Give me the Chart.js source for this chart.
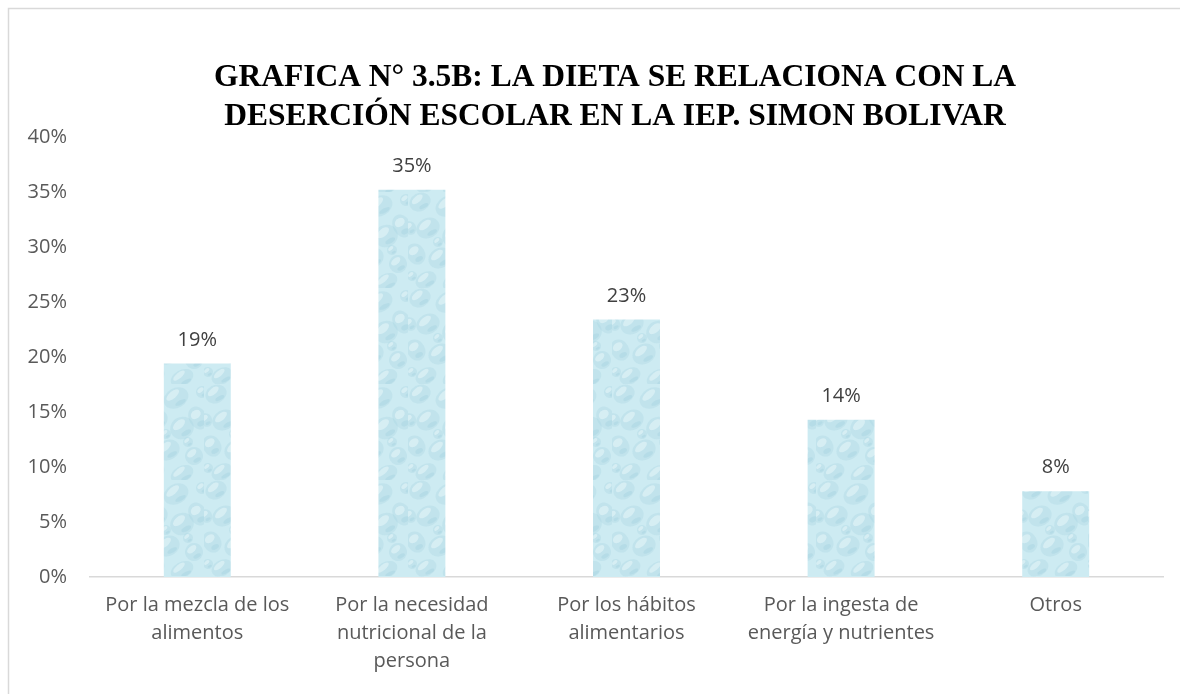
<!DOCTYPE html>
<html>
<head>
<meta charset="utf-8">
<script src="https://cdn.jsdelivr.net/npm/chart.js@4.4.1/dist/chart.umd.min.js"></script>
<style>
html,body{margin:0;padding:0;background:#fff;}
#wrap{position:absolute;left:0;top:0;width:1180px;height:694px;}
</style>
</head>
<body>
<div id="wrap"><canvas id="c" width="1180" height="694"></canvas></div>
<script>
const titleLines = ["GRAFICA N° 3.5B: LA DIETA SE RELACIONA CON LA", "DESERCIÓN ESCOLAR EN LA IEP. SIMON BOLIVAR"];
const categories = [
  ["Por la mezcla de los", "alimentos"],
  ["Por la necesidad", "nutricional de la", "persona"],
  ["Por los hábitos", "alimentarios"],
  ["Por la ingesta de", "energía y nutrientes"],
  ["Otros"]
];
const values = [0.194, 0.352, 0.234, 0.143, 0.078];
const yTickMin = 0, yTickMax = 0.4, yTickStep = 0.05;

// water-drop texture pattern (style only)
function makePattern() {
  const p = document.createElement('canvas');
  p.width = 68; p.height = 96;
  const g = p.getContext('2d');
  g.fillStyle = '#cdebf2';
  g.fillRect(0, 0, p.width, p.height);
  const drops = [
    [12,10,11,9],[40,14,13,10],[62,34,9,12],[20,36,12,10],[46,44,12,11],
    [8,62,9,11],[32,66,12,10],[58,72,9,9],[18,88,11,8],[46,90,12,8],
    [2,36,6,7],[66,8,6,6],[30,50,5,5],[52,58,5,5],[4,84,5,5]
  ];
  for (const [x,y,rx,ry] of drops) {
    g.beginPath(); g.ellipse(x, y, rx, ry, -0.5, 0, Math.PI*2);
    g.fillStyle = 'rgba(160,210,224,0.28)'; g.fill();
    g.beginPath(); g.ellipse(x-rx*0.25, y-ry*0.3, rx*0.6, ry*0.35, -0.7, 0, Math.PI*2);
    g.fillStyle = 'rgba(240,250,252,0.45)'; g.fill();
    g.beginPath(); g.ellipse(x+rx*0.35, y+ry*0.45, rx*0.45, ry*0.22, -0.5, 0, Math.PI*2);
    g.fillStyle = 'rgba(140,195,212,0.22)'; g.fill();
  }
  return g.createPattern(p, 'repeat');
}

const frame = {
  id: 'frame',
  beforeDraw(chart) {
    const ctx = chart.ctx;
    ctx.save();
    ctx.strokeStyle = '#d9d9d9';
    ctx.lineWidth = 1.5;
    ctx.beginPath();
    ctx.moveTo(8.5, 694); ctx.lineTo(8.5, 8.5); ctx.lineTo(1180, 8.5);
    ctx.stroke();
    ctx.restore();
  }
};

const chartTitle = {
  id: 'chartTitle',
  afterDraw(chart) {
    const ctx = chart.ctx;
    ctx.save();
    ctx.font = 'bold 31.5px "Liberation Serif", "Times New Roman", serif';
    ctx.fillStyle = '#000';
    ctx.textAlign = 'center';
    ctx.textBaseline = 'middle';
    titleLines.forEach((t, i) => ctx.fillText(t, 615, 78 + i * 38.5));
    ctx.restore();
  }
};

const valueLabels = {
  id: 'valueLabels',
  afterDatasetsDraw(chart) {
    const ctx = chart.ctx;
    const meta = chart.getDatasetMeta(0);
    ctx.save();
    ctx.font = '20px "Open Sans"';
    ctx.fillStyle = '#404040';
    ctx.textAlign = 'center';
    ctx.textBaseline = 'alphabetic';
    meta.data.forEach((bar, i) => {
      ctx.fillText(Math.round(values[i] * 100) + '%', bar.x, bar.y - 18);
    });
    ctx.restore();
  }
};

const ctx = document.getElementById('c').getContext('2d');
new Chart(ctx, {
  type: 'bar',
  data: {
    labels: categories,
    datasets: [{
      data: values,
      backgroundColor: makePattern(),
      borderWidth: 0,
      barPercentage: 0.312,
      categoryPercentage: 1.0
    }]
  },
  options: {
    responsive: false,
    animation: false,
    devicePixelRatio: 1,
    layout: { padding: { left: 0, right: 17, top: 137, bottom: 5 } },
    plugins: {
      legend: { display: false },
      tooltip: { enabled: false },
      title: { display: false }
    },
    scales: {
      x: {
        grid: { display: false, drawTicks: false },
        border: { display: true, color: '#d9d9d9', width: 1.5 },
        ticks: {
          color: '#595959',
          font: { family: '"Open Sans"', size: 20, lineHeight: 1.4 },
          padding: 14,
          maxRotation: 0, minRotation: 0, autoSkip: false
        }
      },
      y: {
        min: yTickMin, max: yTickMax,
        grid: { display: false, drawTicks: false },
        border: { display: false },
        afterFit(scale) { scale.width = 90; },
        ticks: {
          stepSize: yTickStep,
          color: '#595959',
          font: { family: '"Open Sans"', size: 20 },
          padding: 23,
          callback: v => Math.round(v * 100) + '%'
        }
      }
    }
  },
  plugins: [frame, chartTitle, valueLabels]
});
</script>
</body>
</html>
